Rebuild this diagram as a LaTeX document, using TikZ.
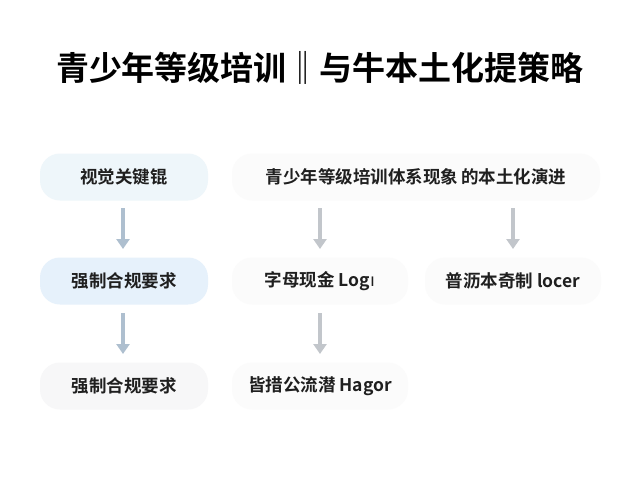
\documentclass[tikz,border=0pt]{standalone}
\usepackage{fontspec}
\setmainfont{Noto Sans CJK SC}
\newfontfamily\cjkb{Noto Sans CJK SC Bold}
\newfontfamily\latb{DejaVu Sans}
\usetikzlibrary{arrows.meta}
\definecolor{bl1}{HTML}{EEF6FA}
\definecolor{bl2}{HTML}{E6F1FB}
\definecolor{gr}{HTML}{F7F7F8}
\definecolor{ar1}{HTML}{AEBFCF}
\definecolor{ar2}{HTML}{C2C6CB}
\begin{document}
\begin{tikzpicture}[x=1pt,y=-1pt,
  box/.style={rounded corners=20pt,minimum height=47pt,inner sep=0pt,font=\cjkb\fontsize{17.5}{20}\selectfont,text=black!88,fill=gr},
  arr/.style={-{Triangle[width=13pt,length=10pt]},line width=3.5pt,draw=#1}]
\useasboundingbox (0,0) rectangle (640,480);
\fill[white] (0,0) rectangle (640,480);
\node[font=\cjkb\fontsize{33}{38}\selectfont] (t) at (320,68) {青少年等级培训‖与牛本土化提策略};
\node[box,fill=bl1,minimum width=168pt] (a1) at (124,177) {视觉关键锟};
\node[box,minimum width=368pt,fill=gray!3] (b1) at (416,177) {青少年等级培训体系现象\,的本土化演进};
\node[box,fill=bl2,minimum width=168pt] (a2) at (124,281) {强制合规要求};
\node[box,minimum width=176pt,fill=gray!3] (b2) at (320,281) {字母现金 Log{\latb ı}};
\node[box,minimum width=176pt,fill=gray!3] (c2) at (513,281) {普沥本奇制 locer};
\node[box,minimum width=168pt] (a3) at (124,386) {强制合规要求};
\node[box,minimum width=176pt,fill=gray!3] (b3) at (320,386) {皆措公流潜 Hagor};
\coordinate (p1) at (123,208); \coordinate (q1) at (123,249);
\coordinate (p2) at (320,208); \coordinate (q2) at (320,249);
\coordinate (p3) at (513,208); \coordinate (q3) at (513,249);
\coordinate (p4) at (123,313); \coordinate (q4) at (123,354);
\coordinate (p5) at (320,313); \coordinate (q5) at (320,354);
\draw[arr=ar1] (p1)--(q1);
\draw[arr=ar2] (p2)--(q2);
\draw[arr=ar2] (p3)--(q3);
\draw[arr=ar1] (p4)--(q4);
\draw[arr=ar2] (p5)--(q5);
\end{tikzpicture}
\end{document}
